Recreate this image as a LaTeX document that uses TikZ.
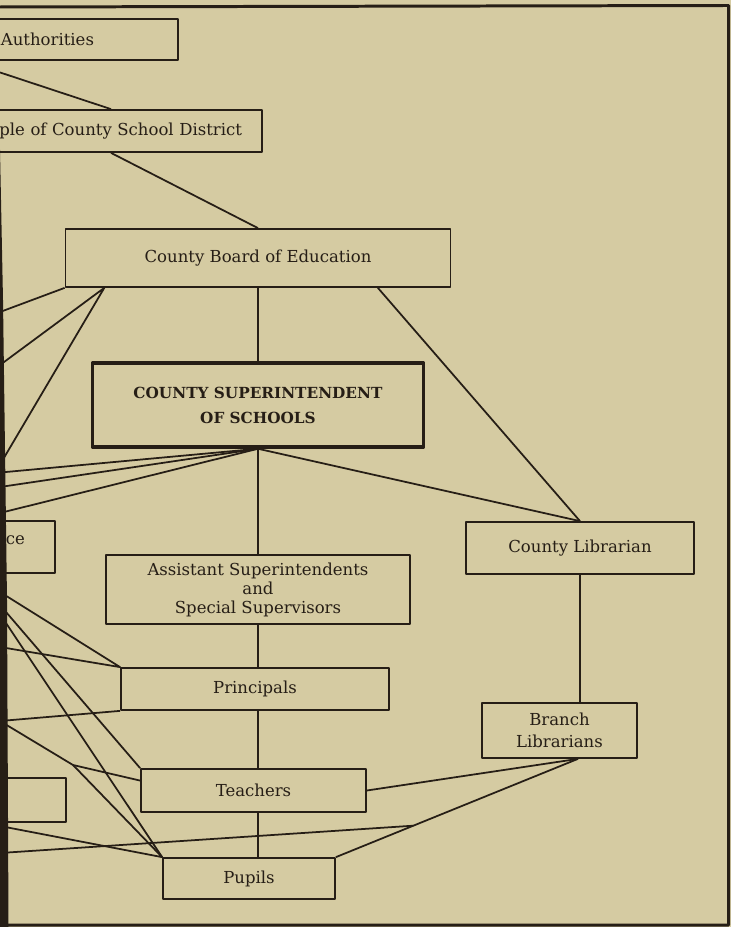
\documentclass[tikz,border=0pt]{standalone}
\usepackage{fontspec}
\setmainfont{DejaVu Serif}
\usetikzlibrary{calc}

\definecolor{paper}{RGB}{213,203,162}
\definecolor{ink}{RGB}{38,30,22}

\tikzset{
  box/.style={draw=ink, line width=1pt, inner sep=0pt, align=center, text=ink,
              font=\fontsize{9.4}{10.8}\selectfont},
  chief/.style={box, line width=2pt, font=\fontsize{8.7}{14.2}\selectfont\bfseries},
  link/.style={draw=ink, line width=1pt}
}

\begin{document}
\begin{tikzpicture}[line join=round]
\useasboundingbox (0,0) rectangle (14.62,-18.54);
\fill[paper] (0,0) rectangle (14.62,-18.54);

\begin{scope}
\clip (0,0) rectangle (14.62,-18.54);
% boxes
\node[box, minimum width=8.52cm, minimum height=0.82cm, inner xsep=1.68cm,
      text width=5.16cm, align=right] (auth) at (-0.70,-0.79) {Authorities};
\node[box, minimum width=6.04cm, minimum height=0.84cm, inner xsep=0.4cm,
      text width=5.24cm, align=right] (district) at (2.22,-2.62) {ple of County School District};
\node[box, minimum width=7.70cm, minimum height=1.16cm] (board) at (5.16,-5.16) {County Board of Education};
\node[chief, minimum width=6.62cm, minimum height=1.68cm] (super) at (5.16,-8.10)
  {COUNTY SUPERINTENDENT\\OF SCHOOLS};
\node[box, minimum width=2.10cm, minimum height=1.04cm, inner xsep=0.6cm,
      text width=0.9cm, align=right] (ceBox) at (0.05,-10.94) {\raisebox{0.28cm}{ce}};
\node[box, minimum width=6.08cm, minimum height=1.38cm] (asst) at (5.16,-11.79)
  {Assistant Superintendents\\and\\Special Supervisors};
\node[box, minimum width=5.36cm, minimum height=0.84cm] (principals) at (5.10,-13.78) {Principals};
\node[box, minimum width=2.32cm, minimum height=0.88cm] (lowBox) at (0.16,-16.00) {};
\node[box, minimum width=4.50cm, minimum height=0.86cm] (teachers) at (5.07,-15.81) {Teachers};
\node[box, minimum width=3.44cm, minimum height=0.82cm] (pupils) at (4.98,-17.57) {Pupils};
\node[box, minimum width=4.56cm, minimum height=1.04cm] (countyLib) at (11.60,-10.96) {County Librarian};
\node[box, minimum width=3.10cm, minimum height=1.10cm, font=\fontsize{9.4}{12.5}\selectfont]
  (branch) at (11.19,-14.61) {Branch\\Librarians};

% loose ends running off the left edge
\coordinate (w312) at (0,-6.24);
\coordinate (w365) at (0,-7.30);
\coordinate (wA) at (-0.1,-9.46);
\coordinate (w487) at (0,-9.74);
\coordinate (w513) at (0,-10.26);
\coordinate (w592) at (0,-11.84);
\coordinate (w605) at (0,-12.10);
\coordinate (w614) at (0,-12.28);
\coordinate (w647) at (0,-12.94);
\coordinate (w721) at (0,-14.42);
\coordinate (fork) at (1.46,-15.30);
\coordinate (w826) at (0,-16.52);
\coordinate (w853) at (0,-17.06);
\coordinate (merge) at ($(branch.-57)!0.68!(pupils.north east)$);

% top of the chart
\draw[link] (auth.south) -- (district.north);
\draw[link] (district.south) -- (board.north);
\draw[link] (board.south) -- (super.north);
\draw[link] (board.south west) -- (w312);
\draw[link] (w365) -- (board.191) -- (wA);
\draw[link] (board.-14) -- (countyLib.north);

% from the superintendent
\draw[link] (super.south) -- (wA);
\draw[link] (super.south) -- (w487);
\draw[link] (super.south) -- (w513);
\draw[link] (super.south) -- (countyLib.north);
\draw[link] (super.south) -- (asst.north);

% schools line
\draw[link] (asst.south) -- (asst.south |- principals.north);
\draw[link] (asst.south |- principals.south) -- (asst.south |- teachers.north);
\draw[link] (asst.south |- teachers.south) -- (asst.south |- pupils.north);
\draw[link] (w592) -- (principals.north west) -- (w647);
\draw[link] (w721) -- (principals.south west);
\draw[link] (w605) -- (teachers.north west);
\draw[link] (w614) -- (pupils.north west);
\draw[link] (w721) -- (fork) -- (teachers.175);
\draw[link] (fork) -- (pupils.north west) -- (w826);
\draw[link] (w853) -- (merge);

% library line
\draw[link] (countyLib.south) -- (countyLib.south |- branch.north);
\draw[link] (branch.-57) -- (teachers.east);
\draw[link] (branch.-57) -- (pupils.north east);

% page edge and frame
\fill[ink] (0,-3.0) -- (0.06,-6) -- (0.14,-12) -- (0.17,-18.54) -- (0,-18.54) -- cycle;
\draw[ink, line width=1.7pt] (0,-0.14) -- (14.57,-0.11) -- (14.57,-18.50) -- (0,-18.50);
\end{scope}
\end{tikzpicture}
\end{document}
